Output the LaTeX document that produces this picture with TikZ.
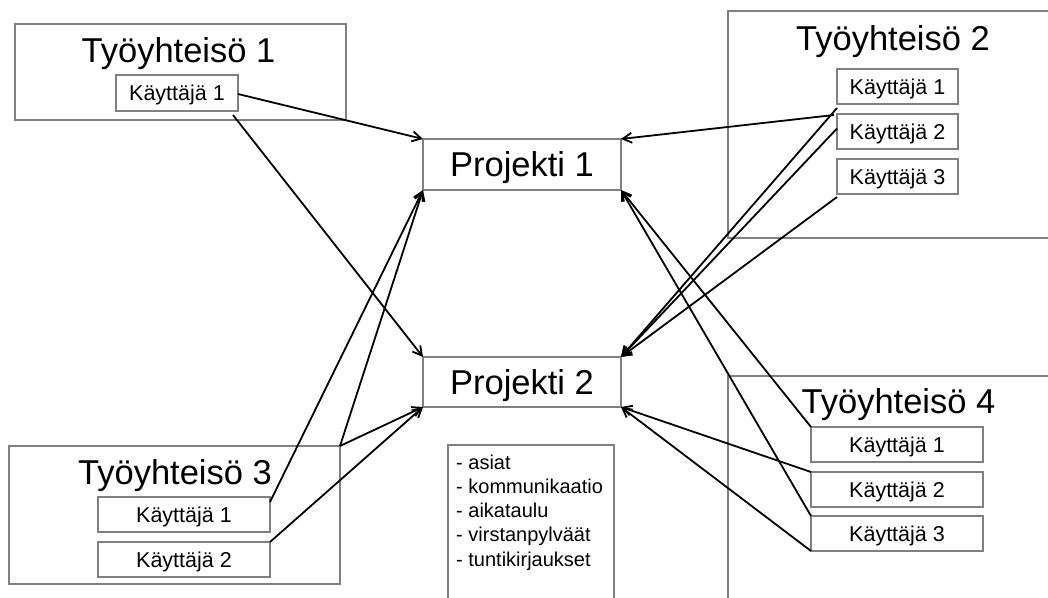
\documentclass[tikz,border=0pt]{standalone}
\usepackage{fontspec}
\setmainfont{Liberation Sans}
\usetikzlibrary{arrows.meta,calc}
\definecolor{boxgray}{RGB}{128,128,128}
\tikzset{
  frame/.style={draw=boxgray,line width=1.4pt,inner sep=0pt,outer sep=0pt,anchor=center},
  userbox/.style={frame,fill=white,font=\fontsize{21.5}{24}\selectfont,text height=15.5pt,text depth=0pt},
  projbox/.style={frame,fill=white,font=\fontsize{34.5}{38}\selectfont,text height=24.7pt,text depth=0pt},
  titletext/.style={inner sep=0pt,outer sep=0pt,font=\fontsize{34.5}{38}\selectfont,text height=24.7pt,text depth=0pt},
  conn/.style={line width=1.8pt,black,-{Straight Barb[length=9pt,width=10pt,line width=1.8pt]}},
}
\begin{document}
\begin{tikzpicture}[x=1pt,y=-1pt]
\useasboundingbox (0,0) rectangle (1048,597);
\clip (0,0) rectangle (1048,597);
% containers
\node[frame,minimum width=331pt,minimum height=96pt] (T1) at (180.5,72) {};
\node[frame,minimum width=332pt,minimum height=227pt] (T2) at (894,124.5) {};
\node[frame,minimum width=331pt,minimum height=138pt] (T3) at (174.5,515) {};
\node[frame,minimum width=332pt,minimum height=234pt] (T4) at (894,493) {};
% titles
\node[titletext] (T1t) at (178.5,50.5) {Työyhteisö 1};
\node[titletext] (T2t) at (893,38) {Työyhteisö 2};
\node[titletext] (T3t) at (175,472.5) {Työyhteisö 3};
\node[titletext] (T4t) at (898.5,401.5) {Työyhteisö 4};
% users
\node[userbox,minimum width=122pt,minimum height=36pt] (T1K1) at (177,93) {Käyttäjä 1};
\node[userbox,minimum width=121pt,minimum height=35pt] (T2K1) at (897.5,86.5) {Käyttäjä 1};
\node[userbox,minimum width=121pt,minimum height=35pt] (T2K2) at (897.5,131.5) {Käyttäjä 2};
\node[userbox,minimum width=121pt,minimum height=35pt] (T2K3) at (897.5,176.5) {Käyttäjä 3};
\node[userbox,minimum width=172pt,minimum height=35pt] (T3K1) at (184,514.5) {Käyttäjä 1};
\node[userbox,minimum width=172pt,minimum height=35pt] (T3K2) at (184,559.5) {Käyttäjä 2};
\node[userbox,minimum width=172pt,minimum height=35pt] (T4K1) at (897,444.5) {Käyttäjä 1};
\node[userbox,minimum width=172pt,minimum height=35pt] (T4K2) at (897,489.5) {Käyttäjä 2};
\node[userbox,minimum width=172pt,minimum height=35pt] (T4K3) at (897,533.5) {Käyttäjä 3};
% projects
\node[projbox,minimum width=198pt,minimum height=51pt] (P1) at (522,164.5) {Projekti 1};
\node[projbox,minimum width=198pt,minimum height=50pt] (P2) at (522,382) {Projekti 2};
% notes box
\node[frame,minimum width=166pt,minimum height=170pt] (N) at (531,530) {};
\node[inner sep=0pt,anchor=base west,align=left,font=\fontsize{20}{24.2}\selectfont] (Nt) at (456,566)
  {- asiat\\- kommunikaatio\\- aikataulu\\- virstanpylväät\\- tuntikirjaukset};
% start points
\coordinate (s2) at ($(T1K1.south east)+(-5,4)$);
\coordinate (s3) at ($(T2K2.north west)+(-3,1)$);
\coordinate (s4) at ($(T2K1.south west)+(0,4)$);
\coordinate (s6) at ($(T2K3.south west)+(0,3)$);
\coordinate (s7) at ($(T3K1.north east)+(0,5)$);
% connectors
\draw[conn] ($(T1K1.east)+(0,1)$) -- (P1.north west);
\draw[conn] (s2) -- (P2.north west);
\draw[conn] (s3) -- (P1.north east);
\draw[conn] (s4) -- (P2.north east);
\draw[conn] ($(T2K2.west)+(0,-3)$) -- (P2.north east);
\draw[conn] (s6) -- (P2.north east);
\draw[conn] (s7) -- (P1.south west);
\draw[conn] (T3.north east) -- (P1.south west);
\draw[conn] (T3.north east) -- (P2.south west);
\draw[conn] (T3K2.north east) -- (P2.south west);
\draw[conn] (T4K1.north west) -- (P1.south east);
\draw[conn] (T4K3.north west) -- (P1.south east);
\draw[conn] (T4K2.north west) -- (P2.south east);
\draw[conn] (T4K3.south west) -- (P2.south east);
\end{tikzpicture}
\end{document}
